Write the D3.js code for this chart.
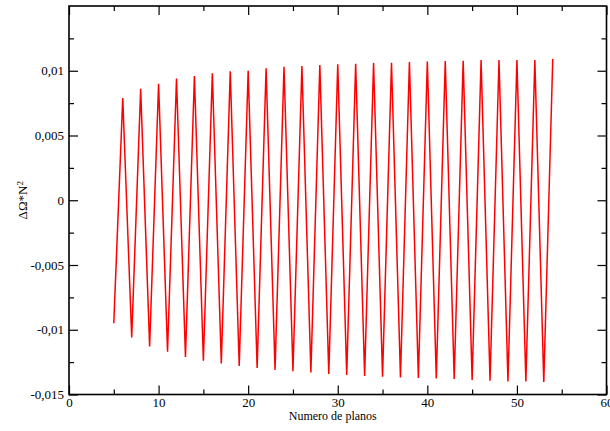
<!DOCTYPE html>
<html>
<head>
<meta charset="utf-8">
<script src="https://cdn.jsdelivr.net/npm/d3@7"></script>
<style>
  html, body { margin: 0; padding: 0; background: #fff; }
  svg { display: block; }
  text { font-family: "Liberation Serif", "Times New Roman", Times, serif; fill: #000; }
</style>
</head>
<body>
<svg id="chart" width="610" height="431"></svg>
<script>
// Number of planes (x) and the corresponding ΔΩ·N² values (y)
const planos = [5, 6, 7, 8, 9, 10, 11, 12, 13, 14, 15, 16, 17, 18, 19, 20, 21, 22, 23, 24,
  25, 26, 27, 28, 29, 30, 31, 32, 33, 34, 35, 36, 37, 38, 39, 40, 41, 42, 43, 44,
  45, 46, 47, 48, 49, 50, 51, 52, 53, 54];
const deltaOmegaN2 = [-0.0095, 0.0079, -0.0106, 0.0086, -0.0113, 0.0090, -0.0117, 0.0094, -0.0121, 0.0096,
  -0.0124, 0.0098, -0.0126, 0.00995, -0.0128, 0.0100, -0.01295, 0.0102, -0.0131, 0.0103,
  -0.0132, 0.01036, -0.0133, 0.01044, -0.01342, 0.0105, -0.01349, 0.01053, -0.01357, 0.0106,
  -0.01362, 0.01062, -0.01369, 0.01067, -0.01372, 0.01072, -0.01377, 0.01075, -0.0138, 0.01077,
  -0.01388, 0.01082, -0.01393, 0.01082, -0.0140, 0.01082, -0.0140, 0.01083, -0.01403, 0.0109];

const xMajorTicks = [0, 10, 20, 30, 40, 50, 60];
const xMinorTicks = [5, 15, 25, 35, 45, 55];
const yMajorTicks = [-0.015, -0.01, -0.005, 0, 0.005, 0.01];
const yMinorTicks = [-0.0125, -0.0075, -0.0025, 0.0025, 0.0075, 0.0125];
const yTickLabels = ["-0,015", "-0,01", "-0,005", "0", "0,005", "0,01"];

const FONT = "'Liberation Serif', 'Times New Roman', Times, serif";
const svg = d3.select("#chart");
const W = 610, H = 431;
const margin = { left: 69, right: 3.5, top: 6, bottom: 36.5 };
const iw = W - margin.left - margin.right;
const ih = H - margin.top - margin.bottom;

const x = d3.scaleLinear().domain([0, 60]).range([0, iw]);
const y = d3.scaleLinear().domain([-0.015, 0.015]).range([ih, 0]);

const g = svg.append("g").attr("transform", `translate(${margin.left},${margin.top})`);

// Data line
const line = d3.line().x((d, i) => x(planos[i])).y(d => y(d));
g.append("path")
  .datum(deltaOmegaN2)
  .attr("d", line)
  .attr("fill", "none")
  .attr("stroke", "#ff0000")
  .attr("stroke-width", 1.5)
  .attr("stroke-linejoin", "miter");

// Ticks pointing inward on all four sides
const MAJ = 9, MIN = 5;
function styleAxis(sel) {
  sel.attr("font-family", FONT).attr("font-size", 13);
  sel.select(".domain").remove();
  sel.selectAll(".tick line").attr("stroke", "#000").attr("stroke-width", 1.2);
  sel.selectAll("text").style("font-size", "13px").style("font-family", FONT);
}

// Bottom
g.append("g").attr("transform", `translate(0,${ih})`)
  .call(d3.axisBottom(x).tickValues(xMajorTicks).tickSize(-MAJ).tickPadding(3).tickFormat(d3.format("d")))
  .call(styleAxis);
g.append("g").attr("transform", `translate(0,${ih})`)
  .call(d3.axisBottom(x).tickValues(xMinorTicks).tickSize(-MIN).tickFormat(""))
  .call(styleAxis);

// Top
g.append("g").call(d3.axisTop(x).tickValues(xMajorTicks).tickSize(-MAJ).tickFormat("")).call(styleAxis);
g.append("g").call(d3.axisTop(x).tickValues(xMinorTicks).tickSize(-MIN).tickFormat("")).call(styleAxis);

// Left
g.append("g")
  .call(d3.axisLeft(y).tickValues(yMajorTicks).tickSize(-MAJ).tickPadding(5)
    .tickFormat((d, i) => yTickLabels[i]))
  .call(styleAxis);
g.append("g").call(d3.axisLeft(y).tickValues(yMinorTicks).tickSize(-MIN).tickFormat("")).call(styleAxis);

// Right
g.append("g").attr("transform", `translate(${iw},0)`)
  .call(d3.axisRight(y).tickValues(yMajorTicks).tickSize(-MAJ).tickFormat("")).call(styleAxis);
g.append("g").attr("transform", `translate(${iw},0)`)
  .call(d3.axisRight(y).tickValues(yMinorTicks).tickSize(-MIN).tickFormat("")).call(styleAxis);

// Frame
g.append("rect")
  .attr("x", 0).attr("y", 0).attr("width", iw).attr("height", ih)
  .attr("fill", "none").attr("stroke", "#000").attr("stroke-width", 1.6);

// Axis titles
g.append("text")
  .attr("x", iw / 2 - 5).attr("y", ih + 25)
  .attr("text-anchor", "middle")
  .style("font-size", "12px")
  .text("Numero de planos");

const yTitle = svg.append("text")
  .attr("transform", `translate(27,${margin.top + y(0)}) rotate(-90)`)
  .attr("text-anchor", "middle")
  .style("font-size", "13px");
yTitle.append("tspan").text("ΔΩ*N");
yTitle.append("tspan").attr("dy", "-0.45em").style("font-size", "9px").text("2");
</script>
</body>
</html>
